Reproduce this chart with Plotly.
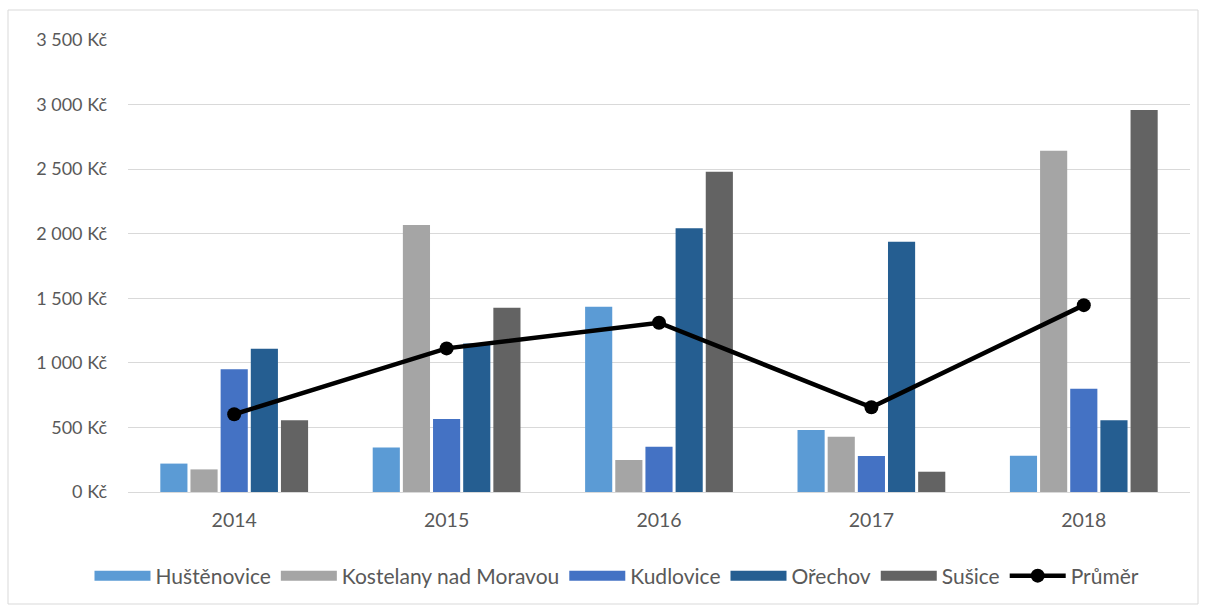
import plotly.graph_objects as go

years = ["2014", "2015", "2016", "2017", "2018"]
hustenovice = [220, 345, 1435, 480, 281]
kostelany = [175, 2067, 248, 428, 2643]
kudlovice = [950, 565, 351, 279, 800]
orechov = [1110, 1150, 2042, 1938, 555]
susice = [555, 1427, 2480, 157, 2958]
prumer = [602, 1112, 1311, 656, 1447]

ytick_vals = [0, 500, 1000, 1500, 2000, 2500, 3000, 3500]
ytick_text = ["0 Kč", "500 Kč", "1 000 Kč", "1 500 Kč", "2 000 Kč", "2 500 Kč", "3 000 Kč", "3 500 Kč"]

series = [
    ("Huštěnovice", hustenovice, "#5B9BD5"),
    ("Kostelany nad Moravou", kostelany, "#A5A5A5"),
    ("Kudlovice", kudlovice, "#4472C4"),
    ("Ořechov", orechov, "#255E91"),
    ("Sušice", susice, "#636363"),
]

fig = go.Figure()
for name, vals, col in series:
    fig.add_trace(go.Bar(x=years, y=vals, name=name, showlegend=False,
                         marker=dict(color=col, line=dict(width=0))))
    # legend-only entry drawn as a wide rectangle (like the original)
    fig.add_trace(go.Scatter(x=[None], y=[None], name=name, mode="lines",
                             line=dict(color=col, width=12), showlegend=True))
fig.add_trace(go.Scatter(x=years, y=prumer, name="Průměr", mode="lines+markers",
                         line=dict(color="#000000", width=4.5),
                         marker=dict(color="#000000", size=14)))

W, H = 1206, 610
l, r, t, b = 128, 16, 40, 118
pw, ph = W - l - r, H - t - b

fig.update_layout(
    width=W, height=H,
    margin=dict(l=l, r=r, t=t, b=b),
    paper_bgcolor="white", plot_bgcolor="white",
    barmode="group", bargap=0.29, bargroupgap=0.1,
    font=dict(family="Lato, Open Sans, sans-serif", size=18, color="#595959"),
    showlegend=True,
    legend=dict(orientation="h", x=(617 - l) / pw, xanchor="center",
                y=(H - b - 576) / ph, yanchor="middle",
                font=dict(size=21, color="#595959"), itemwidth=56, tracegroupgap=0),
    xaxis=dict(showgrid=False, showline=False, ticks="", ticklabelstandoff=14,
               tickfont=dict(size=19.5, color="#595959")),
    yaxis=dict(range=[0, 3500], tickvals=ytick_vals, ticktext=ytick_text,
               showgrid=True, gridcolor="#D9D9D9", gridwidth=1.3,
               zeroline=True, zerolinecolor="#D9D9D9", zerolinewidth=1.3,
               showline=False, ticks="", ticklabelstandoff=20,
               tickfont=dict(size=18, color="#595959")),
    shapes=[dict(type="rect", xref="paper", yref="paper",
                 x0=(8 - l) / pw, x1=(1198 - l) / pw,
                 y0=(H - b - 604) / ph, y1=(H - b - 10) / ph,
                 line=dict(color="#D9D9D9", width=1), layer="below")],
)

fig.write_html("out.html", config={"displayModeBar": False},
               post_script="document.body.style.margin='0';document.body.style.overflow='hidden';")
